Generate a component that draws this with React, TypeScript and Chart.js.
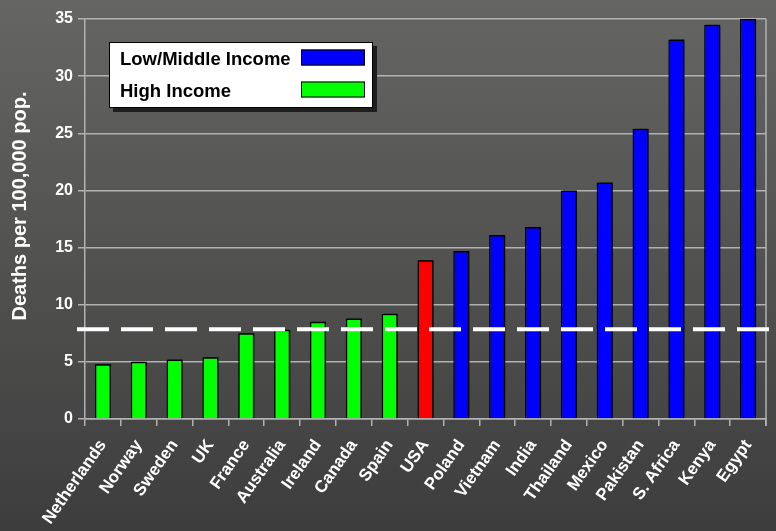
import React, { useEffect, useRef } from 'react';
import { Chart, registerables } from 'chart.js';

Chart.register(...registerables);

const countries = [
  'Netherlands', 'Norway', 'Sweden', 'UK', 'France', 'Australia', 'Ireland', 'Canada', 'Spain',
  'USA', 'Poland', 'Vietnam', 'India', 'Thailand', 'Mexico', 'Pakistan', 'S. Africa', 'Kenya', 'Egypt',
];
const deathRates = [4.8, 5.0, 5.2, 5.4, 7.5, 7.8, 8.5, 8.8, 9.2, 13.9, 14.7, 16.1, 16.8, 20.0, 20.7, 25.4, 33.2, 34.5, 35.0];
const incomeGroups = ['high', 'high', 'high', 'high', 'high', 'high', 'high', 'high', 'high', 'usa', 'low', 'low', 'low', 'low', 'low', 'low', 'low', 'low', 'low'];
const groupColors: Record<string, string> = { low: '#0000FF', high: '#00FF00', usa: '#FF0000' };
const legendLabels = ['Low/Middle Income', 'High Income'];
const legendGroups = ['low', 'high'];
const yMin = 0;
const yMax = 35;
const yStep = 5;
const referenceLine = 7.85;
const yAxisTitle = 'Deaths per 100,000 pop.';

const FONT = "'Liberation Sans', Arial, Helvetica, sans-serif";
const GRID = '#b2b2b2';

export default function App() {
  const canvasRef = useRef<HTMLCanvasElement | null>(null);

  useEffect(() => {
    document.body.style.margin = '0';
    const canvas = canvasRef.current;
    if (!canvas) return;

    const backgroundPlugin = {
      id: 'bgGradient',
      beforeDraw(chart: any) {
        const { ctx, width, height } = chart;
        const g = ctx.createLinearGradient(0, 0, 0, height);
        g.addColorStop(0, '#656563');
        g.addColorStop(1, '#3d3d3d');
        ctx.save();
        ctx.fillStyle = g;
        ctx.fillRect(0, 0, width, height);
        ctx.restore();
      },
      beforeDatasetsDraw(chart: any) {
        const { ctx, chartArea } = chart;
        ctx.save();
        ctx.strokeStyle = GRID;
        ctx.lineWidth = 1.5;
        ctx.beginPath();
        ctx.moveTo(chartArea.right, chartArea.top);
        ctx.lineTo(chartArea.right, chartArea.bottom + 7);
        ctx.stroke();
        ctx.restore();
      },
      beforeDatasetDraw(chart: any) {
        const ctx = chart.ctx;
        ctx.save();
        ctx.shadowColor = 'rgba(0,0,0,0.7)';
        ctx.shadowOffsetX = 2;
        ctx.shadowOffsetY = -1;
        ctx.shadowBlur = 1;
      },
      afterDatasetDraw(chart: any) {
        chart.ctx.restore();
      },
      afterDatasetsDraw(chart: any) {
        const { ctx, chartArea, scales } = chart;
        const y = scales.y.getPixelForValue(referenceLine);
        ctx.save();
        ctx.strokeStyle = '#ffffff';
        ctx.lineWidth = 4;
        ctx.setLineDash([32, 12]);
        ctx.beginPath();
        ctx.moveTo(chartArea.left - 8, y);
        ctx.lineTo(chartArea.right + 3, y);
        ctx.stroke();
        ctx.restore();
      },
      afterDraw(chart: any) {
        const { ctx, chartArea } = chart;
        // y axis title
        ctx.save();
        ctx.fillStyle = '#ffffff';
        ctx.font = `bold 20px ${FONT}`;
        ctx.textAlign = 'center';
        ctx.textBaseline = 'alphabetic';
        ctx.translate(26, (chartArea.top + chartArea.bottom) / 2 - 13);
        ctx.rotate(-Math.PI / 2);
        ctx.fillText(yAxisTitle, 0, 0);
        ctx.restore();

        // legend box
        const bx = chartArea.left + 24;
        const by = chartArea.top + 23;
        const bw = 264;
        const bh = 66;
        ctx.save();
        ctx.fillStyle = '#1e1e1e';
        ctx.fillRect(bx + 4, by + 4, bw, bh);
        ctx.fillStyle = '#ffffff';
        ctx.fillRect(bx, by, bw, bh);
        ctx.strokeStyle = '#000000';
        ctx.lineWidth = 1;
        ctx.strokeRect(bx + 0.5, by + 0.5, bw - 1, bh - 1);
        ctx.font = `bold 18.5px ${FONT}`;
        ctx.textAlign = 'left';
        ctx.textBaseline = 'alphabetic';
        legendLabels.forEach((label, i) => {
          const rowY = by + 32 * i;
          ctx.fillStyle = '#000000';
          ctx.fillText(label, bx + 11, rowY + 23);
          ctx.fillStyle = groupColors[legendGroups[i]];
          ctx.fillRect(bx + 192, rowY + 7.5, 64, 16);
          ctx.strokeStyle = '#000000';
          ctx.strokeRect(bx + 192 + 0.5, rowY + 7.5 + 0.5, 63, 15);
        });
        ctx.restore();
      },
    };

    const chart = new Chart(canvas, {
      type: 'bar',
      data: {
        labels: countries,
        datasets: [
          {
            label: 'Deaths per 100,000 pop.',
            data: deathRates,
            backgroundColor: incomeGroups.map((g) => groupColors[g]),
            borderColor: '#000000',
            borderWidth: 1.5,
            borderSkipped: 'bottom',
            barPercentage: 0.45,
            categoryPercentage: 1,
          },
        ],
      },
      options: {
        animation: false,
        responsive: true,
        maintainAspectRatio: false,
        layout: { padding: { left: 0, top: 19, right: 10, bottom: 0 } },
        plugins: {
          legend: { display: false },
          tooltip: { enabled: false },
          title: { display: false },
        },
        scales: {
          x: {
            offset: true,
            grid: {
              display: true,
              offset: true,
              drawOnChartArea: false,
              drawTicks: true,
              tickLength: 7,
              color: GRID,
              lineWidth: 1.5,
            },
            border: { display: true, color: GRID, width: 1.5 },
            ticks: {
              color: '#ffffff',
              font: { family: FONT, size: 17, weight: 'bold' },
              minRotation: 55,
              maxRotation: 55,
              autoSkip: false,
              padding: 10,
            },
            afterFit(scale: any) {
              scale.height = 112;
            },
          },
          y: {
            min: yMin,
            max: yMax,
            grid: {
              color: GRID,
              lineWidth: 1.5,
              drawTicks: true,
              tickLength: 7,
            },
            border: { display: true, color: GRID, width: 1.5 },
            ticks: {
              stepSize: yStep,
              color: '#ffffff',
              font: { family: FONT, size: 16, weight: 'bold' },
              padding: 5,
            },
            afterFit(scale: any) {
              scale.width = 85;
            },
          },
        },
      },
      plugins: [backgroundPlugin],
    });

    return () => {
      chart.destroy();
    };
  }, []);

  return (
    <div style={{ width: 776, height: 531, position: 'relative' }}>
      <canvas ref={canvasRef} />
    </div>
  );
}
